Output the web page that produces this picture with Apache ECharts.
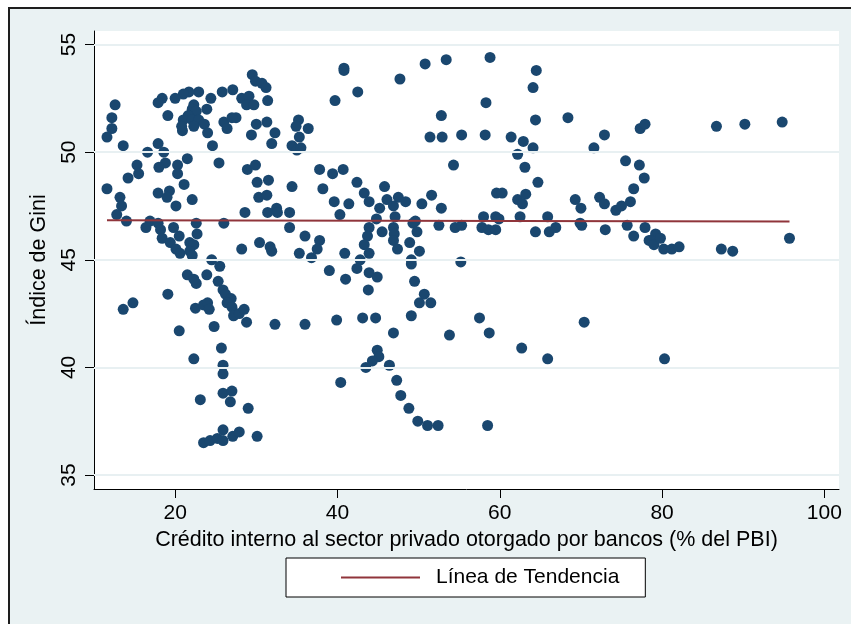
<!DOCTYPE html>
<html lang="es">
<head>
<meta charset="utf-8">
<title>Índice de Gini y crédito interno</title>
<script src="https://cdn.jsdelivr.net/npm/echarts@6/dist/echarts.min.js"></script>
<style>
  html, body { margin: 0; padding: 0; background: #fff; }
  body { position: relative; width: 851px; height: 624px; overflow: hidden; }
  #frame { position: absolute; left: 8px; top: 7px; width: 860px; height: 640px; background: #eaf2f3; border: 2px solid #1e1e1e; }
  #main { position: absolute; left: 0; top: 0; width: 851px; height: 624px; }
</style>
</head>
<body>
<div id="frame"></div>
<div id="main"></div>
<script>
// puntos [credito % PBI, gini]
var puntos = [
  [29.5,53.6],[29.9,53.3],[30.7,53.2],[31.2,53.0],[27.1,52.9],[25.8,52.8],[22.9,52.8],[21.7,52.8],[21.0,52.7],[20.0,52.5],
  [18.4,52.5],[17.9,52.3],[24.4,52.5],[23.9,52.0],[28.2,52.5],[29.1,52.6],[28.8,52.2],[29.7,52.2],[31.4,52.4],[12.6,52.2],
  [19.1,51.7],[22.3,52.2],[22.1,52.0],[22.6,51.9],[21.6,51.7],[21.0,51.5],[22.1,51.5],[22.9,51.5],[23.6,51.3],[22.3,51.2],
  [20.9,51.0],[24.0,50.9],[20.8,51.2],[12.2,51.6],[12.2,51.1],[11.6,50.7],[13.6,50.3],[26.0,51.4],[26.4,51.1],[27.5,51.6],
  [27.0,51.6],[30.0,51.3],[31.3,51.4],[29.4,50.8],[32.3,50.9],[31.9,50.4],[24.6,50.3],[17.9,50.4],[18.6,50.0],[16.6,50.0],
  [21.5,49.7],[18.8,49.5],[18.0,49.3],[15.3,49.4],[15.5,49.0],[14.2,48.8],[20.3,49.4],[20.3,49.0],[25.4,49.5],[28.9,49.2],
  [29.9,49.4],[30.1,48.6],[31.5,48.7],[21.1,48.5],[11.6,48.3],[13.2,47.9],[13.4,47.5],[12.8,47.1],[17.9,48.1],[19.3,48.2],
  [19.0,47.9],[22.1,47.8],[20.1,47.5],[30.3,47.9],[31.3,48.0],[28.6,47.2],[31.4,47.2],[32.5,47.4],[14.0,46.8],[16.9,46.8],
  [17.9,46.7],[16.4,46.5],[18.2,46.4],[22.6,46.7],[22.7,46.2],[26.0,46.7],[19.8,46.5],[20.5,46.1],[18.4,46.0],[19.4,45.8],
  [20.1,45.5],[20.6,45.3],[21.8,45.8],[22.3,45.7],[21.8,45.4],[22.1,45.2],[28.2,45.5],[30.4,45.8],[31.7,45.6],[31.9,45.4],
  [24.5,45.0],
  [25.5,44.7],[21.5,44.3],[22.6,43.9],[22.3,44.1],[23.9,44.3],[25.3,44.0],[25.9,43.6],[26.2,43.4],[26.9,43.2],[26.4,43.0],
  [27.0,42.8],[27.2,42.4],[27.9,42.5],[28.5,42.7],[28.8,42.1],[19.1,43.4],[13.6,42.7],[14.8,43.0],[22.5,42.75],[23.5,42.9],
  [24.0,43.0],[24.2,42.7],[32.3,42.0],[24.8,41.9],[20.5,41.7],[25.7,40.9],[22.3,40.4],[25.9,40.1],[25.9,39.7],[25.9,38.8],
  [27.0,38.9],[26.8,38.4],[23.1,38.5],[29.0,38.1],[23.5,36.5],[24.3,36.6],[25.2,36.7],[25.9,36.6],[25.9,37.1],[27.1,36.8],
  [27.9,37.0],[30.1,36.8],
  [40.8,53.9],[40.8,53.8],[39.7,52.4],[42.5,52.8],[47.7,53.4],[50.8,54.1],[53.4,54.3],[52.8,51.7],[51.4,50.7],[52.9,50.7],
  [55.3,50.8],[54.3,49.4],[35.2,51.5],[34.9,51.2],[36.4,51.1],[35.3,50.7],[34.4,50.3],[35.0,50.1],[35.5,50.2],[37.8,49.2],
  [39.4,49.0],[40.7,49.2],[34.4,48.4],[38.2,48.3],[42.4,48.6],[32.6,47.2],[34.1,47.2],[34.1,46.5],[39.6,47.7],[41.4,47.6],
  [40.3,47.1],[43.3,48.1],[43.9,47.7],[45.8,48.4],[45.2,47.4],[46.1,47.8],[47.5,47.9],[48.4,47.7],[46.9,47.5],[47.1,47.0],
  [44.8,46.9],[50.4,47.6],[51.6,48.0],[52.8,47.4],[49.6,46.8],[49.3,46.7],[49.8,46.3],[52.5,46.6],[54.5,46.5],[55.3,46.6],
  [43.9,46.5],[43.7,46.1],[43.3,45.7],[43.9,45.3],[42.8,45.0],[45.5,46.3],[46.9,46.5],[47.0,46.2],[46.9,45.9],[47.4,45.5],
  [48.9,45.8],[50.1,45.4],[49.1,45.0],[36.0,46.1],[37.8,45.9],[37.5,45.5],[35.3,45.3],[36.8,45.1],[40.9,45.3],
  [39.0,44.5],[41.0,44.1],[42.4,44.6],[43.9,44.4],[44.9,44.2],[43.8,43.6],[49.1,44.8],[49.5,44.0],[50.7,43.4],[50.1,43.0],
  [51.5,43.0],[55.2,44.9],[49.1,42.4],[36.0,42.0],[39.9,42.2],[43.1,42.3],[44.7,42.3],[46.9,41.6],[53.8,41.5],[44.9,40.8],
  [45.1,40.5],[44.3,40.3],[43.5,40.0],[46.4,40.1],[40.4,39.3],[47.3,39.4],[47.8,38.7],[48.8,38.1],[49.9,37.5],[51.1,37.3],
  [52.4,37.3],
  [58.8,54.4],[64.5,53.8],[64.1,53.0],[58.3,52.3],[64.4,51.5],[68.4,51.6],[58.2,50.8],[61.4,50.7],[62.9,50.5],[64.1,50.2],
  [62.2,49.9],[63.1,49.3],[71.6,50.2],[72.9,50.8],[77.3,51.1],[77.9,51.3],[64.7,48.6],[59.6,48.1],[60.3,48.1],[62.2,47.8],
  [63.2,48.05],[62.8,47.6],[75.5,49.6],[77.2,49.4],[77.8,48.8],[76.5,48.3],[69.3,47.8],[70.0,47.4],[72.3,47.9],[72.9,47.6],
  [74.3,47.3],[75.0,47.5],[76.1,47.7],[58.0,47.0],[59.5,47.0],[59.9,46.9],[57.8,46.5],[58.6,46.4],[59.5,46.4],[62.5,47.0],
  [65.9,47.0],[64.4,46.3],[66.1,46.3],[66.9,46.5],[69.9,46.7],[70.1,46.6],[73.0,46.4],[75.7,46.6],[76.5,46.1],[77.9,46.5],
  [78.4,45.9],
  [57.5,42.3],[58.7,41.6],[62.7,40.9],[65.9,40.4],[70.4,42.1],[58.5,37.3],
  [86.7,51.2],[90.2,51.3],[94.8,51.4],[79.2,46.2],[78.6,45.9],[79.0,45.7],[79.8,46.0],[80.2,45.5],[81.2,45.5],[82.1,45.6],
  [87.3,45.5],[88.7,45.4],[95.7,46.0],[80.3,40.4]
];
var tendencia = [[11.6, 46.84], [95.7, 46.78]];
var ticksX = [20, 40, 60, 80, 100];
var ticksY = [35, 40, 45, 50, 55];

var fuente = '"Liberation Sans", Arial, sans-serif';
var chart = echarts.init(document.getElementById('main'));

chart.setOption({
  backgroundColor: 'transparent',
  animation: false,
  textStyle: { fontFamily: fuente, color: '#000' },
  grid: {
    left: 94, right: 12, top: 31, bottom: 135,
    show: true, backgroundColor: '#fff', borderWidth: 0
  },
  legend: {
    data: [{ name: 'Línea de Tendencia', icon: 'rect' }],
    left: 286, top: 558,
    padding: [9, 26, 9, 55],
    itemWidth: 79, itemHeight: 2,
    backgroundColor: '#fff', borderColor: '#000', borderWidth: 1, borderRadius: 0,
    textStyle: { fontFamily: fuente, fontSize: 21, color: '#000', padding: [0, 0, 0, 11] },
    selectedMode: false
  },
  xAxis: {
    type: 'value', min: 10, max: 101.8,
    name: 'Crédito interno al sector privado otorgado por bancos (% del PBI)',
    nameLocation: 'middle', nameGap: 38,
    nameTextStyle: { fontFamily: fuente, fontSize: 21.5, color: '#000' },
    axisLine: { show: true, lineStyle: { color: '#000', width: 1 } },
    axisTick: { show: true, length: 9, customValues: ticksX, lineStyle: { color: '#000' } },
    axisLabel: { customValues: ticksX, margin: 14, fontSize: 21, color: '#000', fontFamily: fuente },
    splitLine: { show: false }
  },
  yAxis: {
    type: 'value', min: 34.35, max: 55.63,
    name: 'Índice de Gini',
    nameLocation: 'middle', nameGap: 44, nameRotate: 90,
    nameTextStyle: { fontFamily: fuente, fontSize: 21.5, color: '#000' },
    axisLine: { show: true, lineStyle: { color: '#000', width: 1 } },
    axisTick: { show: true, length: 9, customValues: ticksY, lineStyle: { color: '#000' } },
    axisLabel: { customValues: ticksY, rotate: 90, margin: 14, fontSize: 21, color: '#000', fontFamily: fuente },
    splitLine: { show: false }
  },
  series: [
    {
      // lineas de la grilla
      type: 'line', data: [], z: 1, silent: true,
      markLine: {
        silent: true, symbol: ['none', 'none'], animation: false,
        label: { show: false },
        lineStyle: { color: '#e8f0f2', type: 'solid', width: 2 },
        data: ticksY.map(function (v) { return { yAxis: v }; })
      }
    },
    {
      name: 'Gini', type: 'scatter', z: 2,
      symbol: 'circle', symbolSize: 11,
      itemStyle: { color: '#1a476f', opacity: 1 },
      data: puntos
    },
    {
      name: 'Línea de Tendencia', type: 'line', z: 3,
      symbol: 'none', showSymbol: false,
      lineStyle: { color: '#90353b', width: 2 },
      itemStyle: { color: '#90353b' },
      data: tendencia
    }
  ]
});
</script>
</body>
</html>
